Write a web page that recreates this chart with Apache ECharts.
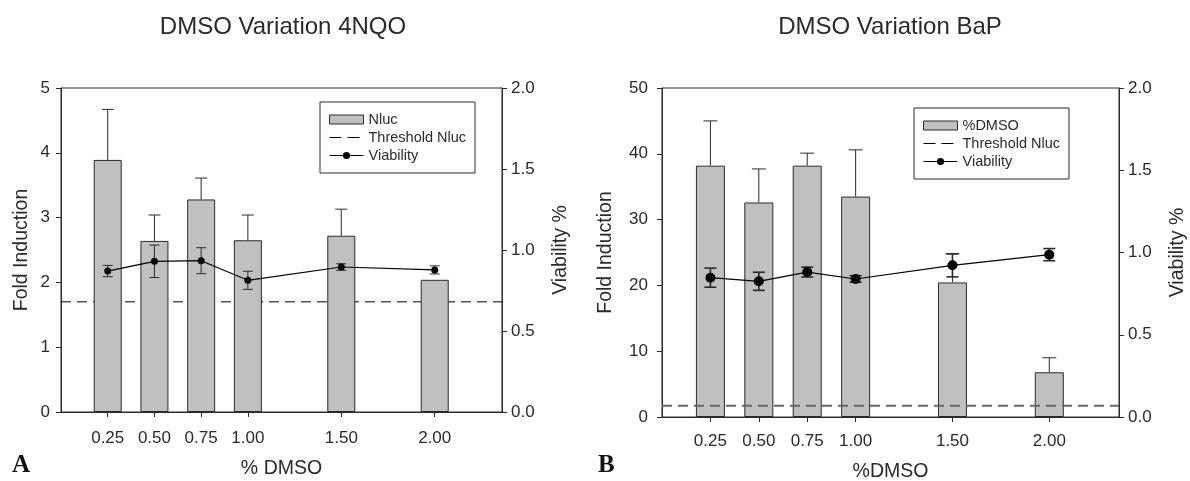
<!DOCTYPE html>
<html>
<head>
<meta charset="utf-8">
<script src="https://cdn.jsdelivr.net/npm/echarts@6/dist/echarts.min.js"></script>
<style>
  html, body { margin: 0; padding: 0; background: #fff; }
  #chart { width: 1190px; height: 481px; }
</style>
</head>
<body>
<div id="chart"></div>
<script>
// % DMSO concentrations (x positions of bars / points)
const dmsoLevels = [0.25, 0.50, 0.75, 1.00, 1.50, 2.00];

// Panel A: 4NQO
const nlucA = [3.89, 2.64, 3.28, 2.65, 2.72, 2.04];
const nlucErrA = [0.78, 0.40, 0.33, 0.39, 0.41, 0];
const viabilityA = [0.87, 0.93, 0.934, 0.813, 0.895, 0.877];
const viabilityErrA = [0.035, 0.10, 0.08, 0.056, 0.02, 0.025];
const thresholdA = 1.7;

// Panel B: BaP
const dmsoB = [38.2, 32.6, 38.2, 33.5, 20.45, 6.8];
const dmsoErrB = [6.8, 5.1, 1.9, 7.1, 4.35, 2.2];
const viabilityB = [0.847, 0.825, 0.881, 0.839, 0.922, 0.987];
const viabilityErrB = [0.058, 0.055, 0.03, 0.02, 0.07, 0.037];
const thresholdB = 1.7;

const X_MIN = 0, X_MAX = 2.36;
const FONT = '"Liberation Sans", Arial, sans-serif';
const INK = '#2a2a2a';

function pairs(xs, ys) { return xs.map((x, i) => [x, ys[i]]); }
function triples(xs, ys, es) {
  return xs.map((x, i) => [x, ys[i], es[i]]).filter(d => d[2] > 0);
}

// Error bar renderer: vertical whisker with caps; upperOnly draws only the + side
function errorBars(capHalf, width, upperOnly) {
  return function (params, api) {
    const x = api.value(0), y = api.value(1), e = api.value(2);
    const top = api.coord([x, y + e]);
    const bot = upperOnly ? api.coord([x, y]) : api.coord([x, y - e]);
    const style = { stroke: INK, lineWidth: width };
    const kids = [
      { type: 'line', shape: { x1: top[0], y1: top[1], x2: bot[0], y2: bot[1] }, style },
      { type: 'line', shape: { x1: top[0] - capHalf, y1: top[1], x2: top[0] + capHalf, y2: top[1] }, style }
    ];
    if (!upperOnly) {
      kids.push({ type: 'line', shape: { x1: bot[0] - capHalf, y1: bot[1], x2: bot[0] + capHalf, y2: bot[1] }, style });
    }
    return { type: 'group', children: kids };
  };
}

function xAxisFor(gi, name, labelMargin, nameGap) {
  return {
    type: 'value', gridIndex: gi, min: X_MIN, max: X_MAX,
    axisLine: { show: true, onZero: false, lineStyle: { color: INK, width: 1 } },
    axisTick: { show: true, length: 5, customValues: dmsoLevels, lineStyle: { color: INK } },
    axisLabel: { customValues: dmsoLevels, formatter: v => v.toFixed(2), margin: labelMargin,
                 fontFamily: FONT, fontSize: 17, color: INK },
    splitLine: { show: false },
    name: name, nameLocation: 'middle', nameGap: nameGap,
    nameTextStyle: { fontFamily: FONT, fontSize: 19.5, color: INK }
  };
}

function yAxisLeft(gi, max, interval, labelMargin, nameGap) {
  return {
    type: 'value', gridIndex: gi, position: 'left', min: 0, max: max, interval: interval,
    axisLine: { show: true, lineStyle: { color: INK, width: 1 } },
    axisTick: { show: true, length: 5, lineStyle: { color: INK } },
    axisLabel: { margin: labelMargin, fontFamily: FONT, fontSize: 17, color: INK },
    splitLine: { show: false },
    name: 'Fold Induction', nameLocation: 'middle', nameGap: nameGap, nameRotate: 90,
    nameTextStyle: { fontFamily: FONT, fontSize: 19.5, color: INK }
  };
}

function yAxisRight(gi) {
  return {
    type: 'value', gridIndex: gi, position: 'right', min: 0, max: 2, interval: 0.5,
    axisLine: { show: true, lineStyle: { color: INK, width: 1 } },
    axisTick: { show: true, length: 5, lineStyle: { color: INK } },
    axisLabel: { margin: 9, formatter: v => v.toFixed(1), fontFamily: FONT, fontSize: 17, color: INK },
    splitLine: { show: false },
    name: 'Viability %', nameLocation: 'middle', nameGap: 49, nameRotate: 90,
    nameTextStyle: { fontFamily: FONT, fontSize: 19.5, color: INK }
  };
}

const barStyle = { color: '#c0c0c0', borderColor: INK, borderWidth: 1 };

function legendFor(gi, left, top, barName) {
  const p = gi === 0 ? 'A|' : 'B|';
  return {
    orient: 'vertical', left: left, top: top,
    padding: [10, 9], itemGap: 3, itemWidth: 34, itemHeight: 9, itemTextGap: 8,
    borderColor: INK, borderWidth: 1, backgroundColor: '#fff',
    selectedMode: false,
    textStyle: { fontFamily: FONT, fontSize: 14.5, color: INK },
    formatter: n => n.split('|')[1],
    data: [
      { name: p + barName, icon: 'rect', itemStyle: { color: '#c0c0c0', borderColor: INK, borderWidth: 1 } },
      { name: p + 'Threshold Nluc', itemStyle: { opacity: 0 },
        lineStyle: { color: '#000', width: 1, type: [12, 6] } },
      { name: p + 'Viability', itemStyle: { color: '#000' }, lineStyle: { color: '#000', width: 1 } }
    ]
  };
}

function panelSeries(gi, bars, barErr, viab, viabErr, thr, barName, opt) {
  const p = gi === 0 ? 'A|' : 'B|';
  const xi = gi, yl = gi * 2, yr = gi * 2 + 1;
  return [
    { name: p + 'Threshold Nluc', type: 'line', xAxisIndex: xi, yAxisIndex: yl,
      data: [[X_MIN, thr], [X_MAX, thr]], symbol: 'none', silent: true, z: opt.thrZ,
      itemStyle: { color: opt.thrColor },
      lineStyle: { color: opt.thrColor, width: opt.thrWidth, type: [10, 6] } },
    { name: p + barName, type: 'bar', xAxisIndex: xi, yAxisIndex: yl,
      data: pairs(dmsoLevels, bars), barWidth: opt.barWidth, itemStyle: barStyle, z: 3 },
    { type: 'custom', xAxisIndex: xi, yAxisIndex: yl, z: 4,
      data: triples(dmsoLevels, bars, barErr), renderItem: errorBars(opt.barCap, 1, true) },
    { name: p + 'Viability', type: 'line', xAxisIndex: xi, yAxisIndex: yr, z: 6,
      data: pairs(dmsoLevels, viab), symbol: 'circle', symbolSize: opt.dot,
      itemStyle: { color: '#000' }, lineStyle: { color: '#000', width: 1.2 } },
    { type: 'custom', xAxisIndex: xi, yAxisIndex: yr, z: 5,
      data: triples(dmsoLevels, viab, viabErr), renderItem: errorBars(opt.viabCap, opt.viabW, false) }
  ];
}

const chart = echarts.init(document.getElementById('chart'), null, { renderer: 'canvas' });

chart.setOption({
  animation: false,
  backgroundColor: '#fff',
  grid: [
    { left: 61, right: 688, top: 88, bottom: 69, show: true, borderColor: INK, borderWidth: 1,
      containLabel: false, outerBoundsMode: 'none' },
    { left: 662, right: 71, top: 88, bottom: 64, show: true, borderColor: INK, borderWidth: 1,
      containLabel: false, outerBoundsMode: 'none' }
  ],
  xAxis: [xAxisFor(0, '% DMSO', 18, 47), xAxisFor(1, '%DMSO', 16, 45)],
  yAxis: [yAxisLeft(0, 5, 1, 11, 29), yAxisRight(0), yAxisLeft(1, 50, 10, 14, 46), yAxisRight(1)],
  legend: [legendFor(0, 320, 102, 'Nluc'), legendFor(1, 914, 108, '%DMSO')],
  graphic: [
    { type: 'text', x: 283, y: 27, style: { text: 'DMSO Variation 4NQO', align: 'center', verticalAlign: 'middle',
      font: '24px ' + FONT, fill: INK } },
    { type: 'text', x: 890, y: 27, style: { text: 'DMSO Variation BaP', align: 'center', verticalAlign: 'middle',
      font: '24px ' + FONT, fill: INK } },
    { type: 'text', x: 12, y: 466, style: { text: 'A', verticalAlign: 'middle',
      font: 'bold 25px "Liberation Serif", "Times New Roman", serif', fill: '#111' } },
    { type: 'text', x: 598, y: 466, style: { text: 'B', verticalAlign: 'middle',
      font: 'bold 25px "Liberation Serif", "Times New Roman", serif', fill: '#111' } }
  ],
  series: [
    ...panelSeries(0, nlucA, nlucErrA, viabilityA, viabilityErrA, thresholdA, 'Nluc',
      { thrZ: 1, thrColor: '#000', thrWidth: 1, barWidth: 28, barCap: 6, viabCap: 5, viabW: 1, dot: 7 }),
    ...panelSeries(1, dmsoB, dmsoErrB, viabilityB, viabilityErrB, thresholdB, '%DMSO',
      { thrZ: 4, thrColor: '#666', thrWidth: 2, barWidth: 29, barCap: 7, viabCap: 6, viabW: 1.6, dot: 10 })
  ]
});
</script>
</body>
</html>
